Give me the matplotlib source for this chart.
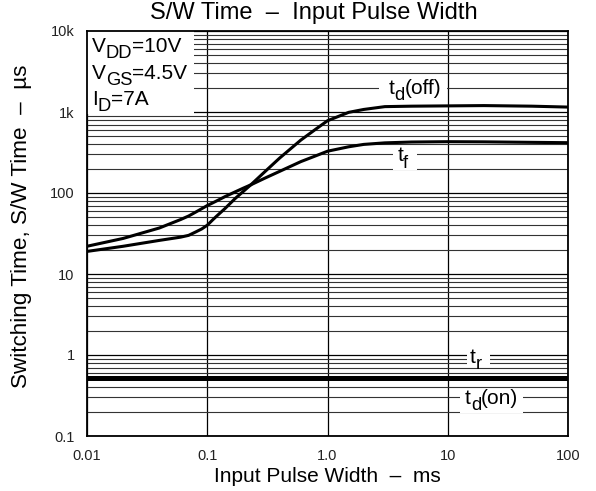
import matplotlib
matplotlib.use('Agg')
import matplotlib.pyplot as plt
import numpy as np
from matplotlib.ticker import FixedLocator, LogLocator, NullFormatter, NullLocator

plt.rcParams['font.family'] = ['Liberation Sans', 'DejaVu Sans']

# ---- data ----
pw = [0.01, 0.02, 0.04, 0.06, 0.07, 0.08, 0.09, 0.1, 0.11, 0.12, 0.14, 0.17, 0.2,
      0.23, 0.3, 0.4, 0.6, 0.8, 1.0, 1.5, 2, 3, 5, 10, 20, 50, 100]
td_off = [19, 22, 26, 28.5, 30, 33, 36, 40, 46, 52, 64, 85, 105,
          126, 182, 270, 450, 615, 780, 990, 1075, 1165, 1180, 1190, 1200, 1180, 1150]
t_f = [22, 27.5, 37, 47, 52, 58, 64, 70, 75, 80, 90, 103, 115,
       126, 152, 185, 244, 288, 328, 372, 398, 416, 426, 430, 428, 422, 418]
pw_flat = [0.01, 100]
t_r = [0.52, 0.52]
td_on = [0.52, 0.52]

x_ticks = [0.01, 0.1, 1.0, 10, 100]
x_labels = ['0.01', '0.1', '1.0', '10', '100']
y_ticks = [0.1, 1, 10, 100, 1000, 10000]
y_labels = ['0.1', '1', '10', '100', '1k', '10k']


def sub_text(ax, x, y, parts, size, transform=None):
    """write text made of (string, is_subscript) pieces, subscripts near full size"""
    first = ax.text(x, y, parts[0][0], fontsize=size, ha='left', va='baseline',
                    transform=transform or ax.transData, zorder=4)
    prev = first
    for s, is_sub in parts[1:]:
        if is_sub:
            t = ax.annotate(s, xy=(1, 0), xycoords=(prev, first), xytext=(0, -4.4),
                            textcoords='offset points', fontsize=size * 0.88,
                            va='bottom', ha='left', zorder=4)
        else:
            t = ax.annotate(s, xy=(1, 0), xycoords=(prev, first),
                            fontsize=size, va='bottom', ha='left', zorder=4)
        prev = t


fig = plt.figure(figsize=(5.96, 4.91), dpi=100)
ax = fig.add_axes([87 / 596, 55 / 491, 481 / 596, 405 / 491])

ax.set_xscale('log')
ax.set_yscale('log')
ax.set_xlim(0.01, 100)
ax.set_ylim(0.1, 10000)

# grid: decades only on x, decades + minors on y
ax.xaxis.set_major_locator(FixedLocator(x_ticks))
ax.xaxis.set_minor_locator(NullLocator())
ax.set_xticklabels(x_labels)
ax.yaxis.set_major_locator(FixedLocator(y_ticks))
ax.yaxis.set_minor_locator(LogLocator(base=10, subs=np.arange(2, 10)))
ax.yaxis.set_minor_formatter(NullFormatter())
ax.set_yticklabels(y_labels)
ax.tick_params(which='both', length=0, labelsize=10.5, pad=9, labelcolor='#222222')

ax.grid(True, which='major', axis='both', color='black', lw=0.9, zorder=0)
ax.grid(True, which='minor', axis='y', color='#333333', lw=0.8, zorder=0)
ax.set_axisbelow(True)
for sp in ax.spines.values():
    sp.set_linewidth(1.3)

ax.plot(pw, td_off, color='black', lw=2.2, zorder=3, solid_joinstyle='round')
ax.plot(pw, t_f, color='black', lw=2.2, zorder=3, solid_joinstyle='round')
ax.plot(pw_flat, t_r, color='black', lw=3.6, zorder=3)
ax.plot(pw_flat, td_on, color='black', lw=3.6, zorder=3)

# white patches behind curve labels
wp = dict(fc='white', ec='none', zorder=2)
ax.add_patch(plt.Rectangle((2.7, 1380), 7.1, 1300, **wp))
ax.add_patch(plt.Rectangle((3.5, 190), 2.1, 120, **wp))
ax.add_patch(plt.Rectangle((14.5, 0.73), 8.0, 0.44, **wp))
ax.add_patch(plt.Rectangle((12.6, 0.19), 30.0, 0.17, **wp))

fs = 15
sub_text(ax, 3.2, 1650, [('t', False), ('d', True), ('(off)', False)], fs)
sub_text(ax, 3.8, 245, [('t', False), ('f', True)], fs)
sub_text(ax, 15.3, 0.8, [('t', False), ('r', True)], fs)
sub_text(ax, 13.9, 0.25, [('t', False), ('d', True), ('(on)', False)], fs)

# conditions box top-left
ax.add_patch(plt.Rectangle((0, 0.795), 0.222, 0.205, transform=ax.transAxes,
                           fc='white', ec='none', zorder=2))
sub_text(ax, 0.01, 0.948, [('V', False), ('DD', True), ('=10V', False)], fs,
         transform=ax.transAxes)
sub_text(ax, 0.01, 0.882, [('V', False), ('GS', True), ('=4.5V', False)], fs,
         transform=ax.transAxes)
sub_text(ax, 0.01, 0.818, [('I', False), ('D', True), ('=7A', False)], fs,
         transform=ax.transAxes)

ax.set_xlabel('Input Pulse Width  –  ms', fontsize=15, labelpad=3)
ax.set_ylabel('Switching Time, S/W Time  –  µs', fontsize=16.2)
ax.yaxis.set_label_coords(-0.114, 0.519)
fig.text(314 / 596, 1 - 13 / 491, 'S/W Time  –  Input Pulse Width', fontsize=17,
         ha='center', va='center')

fig.savefig('out.png', dpi=100)
